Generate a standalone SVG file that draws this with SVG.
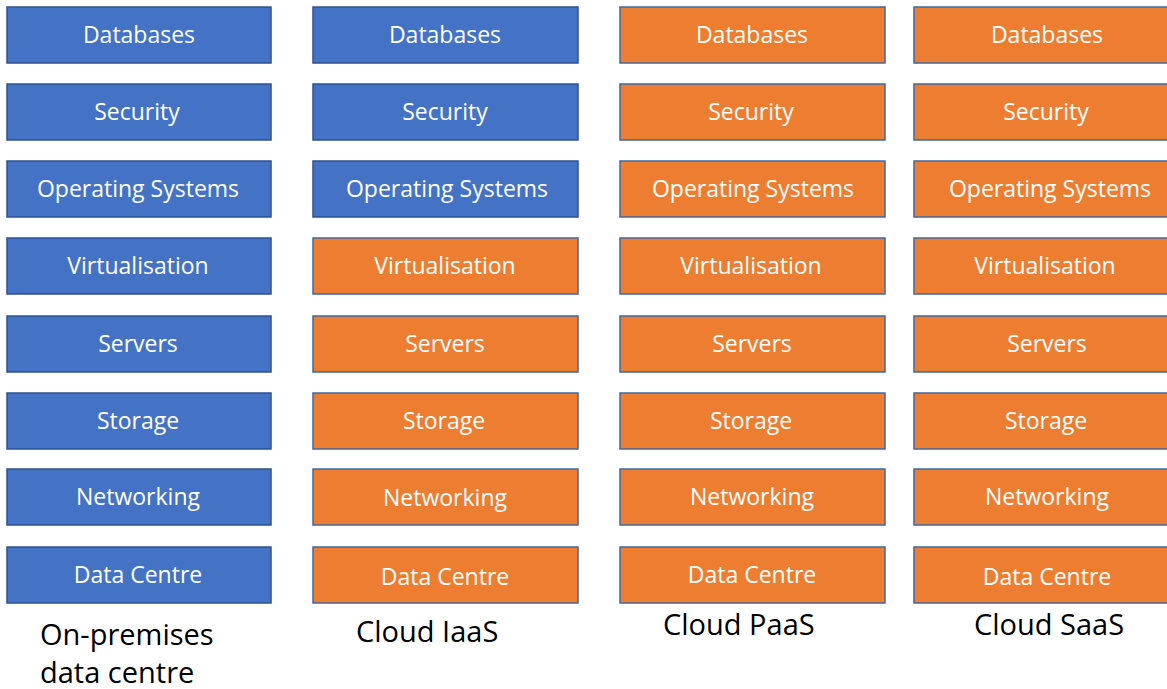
<svg xmlns="http://www.w3.org/2000/svg" width="1167" height="689" viewBox="0 0 1167 689">
<style>
.b{fill:#4472C4;stroke:#2F528F;stroke-width:1.5}
.o{fill:#ED7D31;stroke:#41689F;stroke-width:1.5}
.t{font-family:"Open Sans","Noto Sans","Liberation Sans",sans-serif;font-size:23px;fill:#FFFFFF;text-anchor:middle}
.l{font-family:"Open Sans","Noto Sans","Liberation Sans",sans-serif;font-size:29px;fill:#000000}
</style>
<rect width="1167" height="689" fill="#FFFFFF"/>
<g id="col1">
<g id="c1-databases"><rect class="b" x="7" y="7" width="264" height="56"/><text class="t" x="139" y="43">Databases</text></g>
<g id="c1-security"><rect class="b" x="7" y="84" width="264" height="56"/><text class="t" x="137" y="120">Security</text></g>
<g id="c1-os"><rect class="b" x="7" y="161" width="264" height="56"/><text class="t" x="138" y="197">Operating Systems</text></g>
<g id="c1-virt"><rect class="b" x="7" y="238" width="264" height="56"/><text class="t" x="138" y="274">Virtualisation</text></g>
<g id="c1-servers"><rect class="b" x="7" y="316" width="264" height="56"/><text class="t" x="138" y="352">Servers</text></g>
<g id="c1-storage"><rect class="b" x="7" y="393" width="264" height="56"/><text class="t" x="138" y="429">Storage</text></g>
<g id="c1-networking"><rect class="b" x="7" y="469" width="264" height="56"/><text class="t" x="138" y="505">Networking</text></g>
<g id="c1-dc"><rect class="b" x="7" y="547" width="264" height="56"/><text class="t" x="138" y="583">Data Centre</text></g>
</g>
<g id="col2">
<g id="c2-databases"><rect class="b" x="313" y="7" width="265" height="56"/><text class="t" x="445" y="43">Databases</text></g>
<g id="c2-security"><rect class="b" x="313" y="84" width="265" height="56"/><text class="t" x="445" y="120">Security</text></g>
<g id="c2-os"><rect class="b" x="313" y="161" width="265" height="56"/><text class="t" x="447" y="197">Operating Systems</text></g>
<g id="c2-virt"><rect class="o" x="313" y="238" width="265" height="56"/><text class="t" x="445" y="274">Virtualisation</text></g>
<g id="c2-servers"><rect class="o" x="313" y="316" width="265" height="56"/><text class="t" x="445" y="352">Servers</text></g>
<g id="c2-storage"><rect class="o" x="313" y="393" width="265" height="56"/><text class="t" x="444" y="429">Storage</text></g>
<g id="c2-networking"><rect class="o" x="313" y="469" width="265" height="56"/><text class="t" x="445" y="506">Networking</text></g>
<g id="c2-dc"><rect class="o" x="313" y="547" width="265" height="56"/><text class="t" x="445" y="585">Data Centre</text></g>
</g>
<g id="col3">
<g id="c3-databases"><rect class="o" x="620" y="7" width="265" height="56"/><text class="t" x="752" y="43">Databases</text></g>
<g id="c3-security"><rect class="o" x="620" y="84" width="265" height="56"/><text class="t" x="751" y="120">Security</text></g>
<g id="c3-os"><rect class="o" x="620" y="161" width="265" height="56"/><text class="t" x="753" y="197">Operating Systems</text></g>
<g id="c3-virt"><rect class="o" x="620" y="238" width="265" height="56"/><text class="t" x="751" y="274">Virtualisation</text></g>
<g id="c3-servers"><rect class="o" x="620" y="316" width="265" height="56"/><text class="t" x="752" y="352">Servers</text></g>
<g id="c3-storage"><rect class="o" x="620" y="393" width="265" height="56"/><text class="t" x="751" y="429">Storage</text></g>
<g id="c3-networking"><rect class="o" x="620" y="469" width="265" height="56"/><text class="t" x="752" y="505">Networking</text></g>
<g id="c3-dc"><rect class="o" x="620" y="547" width="265" height="56"/><text class="t" x="752" y="583">Data Centre</text></g>
</g>
<g id="col4">
<g id="c4-databases"><rect class="o" x="914" y="7" width="265" height="56"/><text class="t" x="1047" y="43">Databases</text></g>
<g id="c4-security"><rect class="o" x="914" y="84" width="265" height="56"/><text class="t" x="1046" y="120">Security</text></g>
<g id="c4-os"><rect class="o" x="914" y="161" width="265" height="56"/><text class="t" x="1050" y="197">Operating Systems</text></g>
<g id="c4-virt"><rect class="o" x="914" y="238" width="265" height="56"/><text class="t" x="1045" y="274">Virtualisation</text></g>
<g id="c4-servers"><rect class="o" x="914" y="316" width="265" height="56"/><text class="t" x="1047" y="352">Servers</text></g>
<g id="c4-storage"><rect class="o" x="914" y="393" width="265" height="56"/><text class="t" x="1046" y="429">Storage</text></g>
<g id="c4-networking"><rect class="o" x="914" y="469" width="265" height="56"/><text class="t" x="1047" y="505">Networking</text></g>
<g id="c4-dc"><rect class="o" x="914" y="547" width="265" height="56"/><text class="t" x="1047" y="585">Data Centre</text></g>
</g>
<g id="labels">
<text class="l" x="40" y="645">On-premises</text>
<text class="l" x="40" y="683">data centre</text>
<text class="l" x="356" y="642">Cloud IaaS</text>
<text class="l" x="663" y="635">Cloud PaaS</text>
<text class="l" x="974" y="635">Cloud SaaS</text>
</g>
</svg>
